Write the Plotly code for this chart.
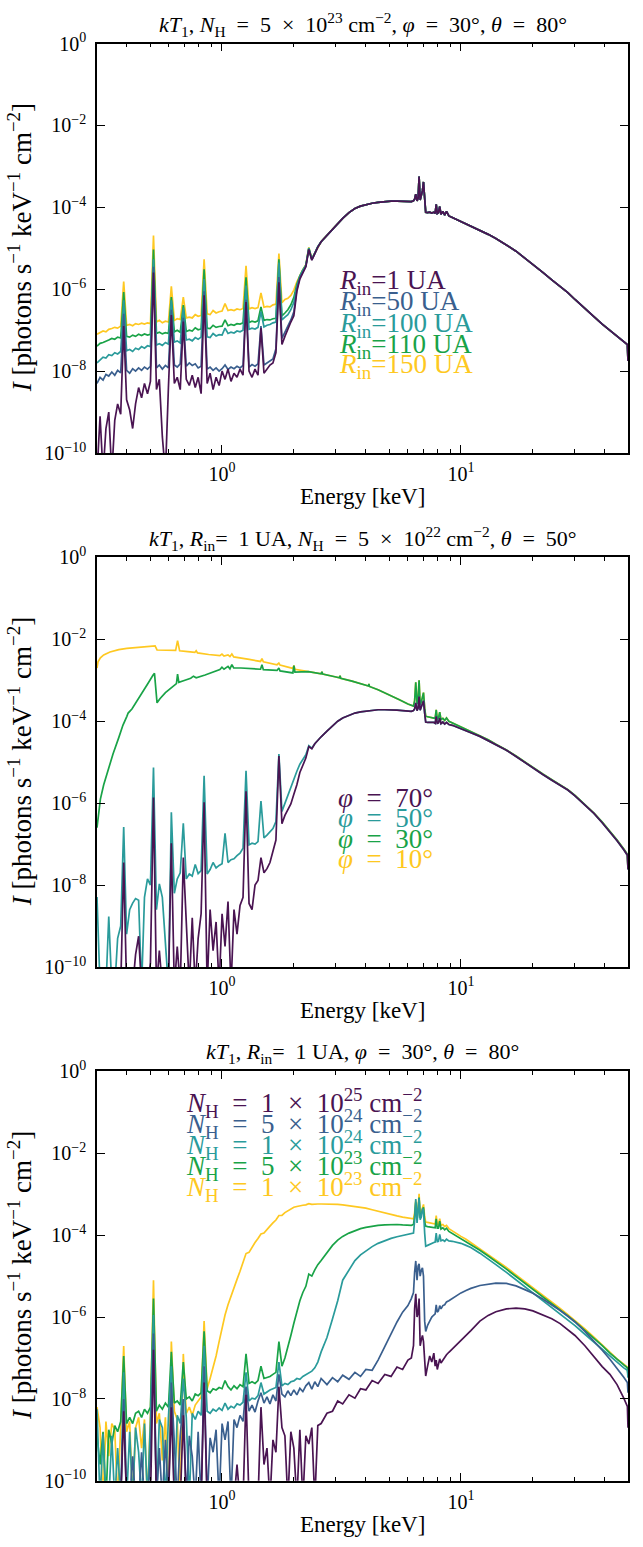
import numpy as np
import plotly.graph_objects as go

FONT = "Liberation Serif"
W, H = 643, 1547

# ---------------------------------------------------------------- energy grids (keV)
E_SOFT = [
    0.300, 0.309, 0.318, 0.327, 0.336, 0.346, 0.356, 0.366, 0.377, 0.388,
    0.399, 0.411, 0.423, 0.435, 0.448, 0.461, 0.474, 0.488, 0.502, 0.517,
    0.532, 0.547, 0.563, 0.580, 0.597, 0.614, 0.632, 0.650, 0.669, 0.689,
    0.709, 0.730, 0.751, 0.773, 0.795, 0.818, 0.842, 0.867, 0.892, 0.918,
    0.945, 0.973, 1.001, 1.030, 1.060, 1.091, 1.123, 1.156, 1.190, 1.225,
    1.261, 1.298, 1.336, 1.375, 1.415, 1.456, 1.499, 1.543, 1.588, 1.634,
    1.682, 1.731, 1.782, 1.834, 1.887, 1.942, 1.999, 2.058, 2.118, 2.180,
    2.244, 2.309, 2.377, 2.446, 2.518,
]
E_HARD = [
    2.60, 2.75, 2.90, 3.05, 3.20, 3.40, 3.60, 3.80, 4.00, 4.25,
    4.50, 4.80, 5.10, 5.40, 5.70, 6.00, 6.20, 6.33, 6.40, 6.47,
    6.55, 6.62, 6.68, 6.75, 6.83, 6.90, 6.97, 7.05, 7.12, 7.25,
    7.40, 7.55, 7.70, 7.80, 7.88, 7.96, 8.05, 8.15, 8.25, 8.40,
    8.55, 8.70, 8.90, 9.20, 9.60, 10.0, 10.5, 11.0, 12.0, 13.0,
    14.0, 15.5, 17.0, 18.5, 20.0, 22.0, 24.0, 26.0, 28.0, 30.0,
    33.0, 36.0, 39.0, 42.0, 45.0, 48.0, 49.7, 50.0,
]

# ---------------------------------------------------------------- panel 1: R_in series (log10 I)
P1_R150_SOFT = [
    -7.10, -7.05, -7.02, -7.04, -6.98, -6.96, -6.93, -6.95, -6.90, -5.81,
    -6.88, -6.86, -6.89, -6.84, -6.86, -6.83, -6.85, -6.82, -6.84, -4.69,
    -6.80, -6.76, -6.82, -6.78, -6.80, -5.93, -6.76, -6.72, -6.74, -6.19,
    -6.70, -6.68, -6.70, -6.62, -6.66, -6.64, -5.27, -6.60, -6.62, -6.52,
    -6.58, -6.55, -6.53, -6.35, -6.52, -6.50, -6.52, -6.48, -6.50, -6.47,
    -5.43, -6.48, -6.45, -6.47, -6.45, -6.09, -6.44, -6.42, -6.43, -6.38,
    -6.36, -5.13, -6.33, -6.25, -6.22, -6.15, -6.02, -5.82, -5.65, -5.52,
    -5.40, -4.98, -5.25, -5.12, -4.96,
]
P1_R110_SOFT = [
    -7.39, -7.32, -7.30, -7.26, -7.24, -7.20, -7.22, -7.17, -7.19, -6.07,
    -7.15, -7.17, -7.12, -7.15, -7.10, -7.13, -7.09, -7.12, -7.10, -5.03,
    -7.08, -7.05, -7.09, -7.06, -7.08, -6.19, -7.04, -7.00, -7.05, -6.39,
    -7.03, -7.00, -7.02, -6.94, -6.99, -6.97, -5.51, -6.95, -6.96, -6.88,
    -6.93, -6.91, -6.90, -6.75, -6.89, -6.86, -6.88, -6.84, -6.85, -6.82,
    -5.71, -6.81, -6.78, -6.80, -6.77, -6.43, -6.76, -6.74, -6.75, -6.72,
    -6.71, -5.27, -6.65, -6.58, -6.50, -6.38, -6.20, -5.88, -5.67, -5.53,
    -5.41, -4.99, -5.26, -5.12, -4.96,
]
P1_R100_SOFT = [
    -7.80, -7.72, -7.66, -7.68, -7.60, -7.62, -7.55, -7.58, -7.52, -6.27,
    -7.50, -7.47, -7.52, -7.44, -7.47, -7.40, -7.44, -7.38, -7.40, -5.27,
    -7.36, -7.33, -7.37, -7.30, -7.34, -6.27, -7.29, -7.26, -7.31, -6.45,
    -7.24, -7.22, -7.26, -7.18, -7.22, -7.17, -5.75, -7.16, -7.18, -7.08,
    -7.14, -7.11, -7.12, -6.95, -7.08, -7.05, -7.07, -7.02, -7.04, -7.00,
    -5.91, -6.98, -6.95, -6.97, -6.93, -6.55, -6.92, -6.88, -6.86, -6.82,
    -6.80, -5.35, -6.75, -6.68, -6.62, -6.50, -6.32, -5.93, -5.69, -5.54,
    -5.42, -5.00, -5.27, -5.12, -4.96,
]
P1_R50_SOFT = [
    -8.30, -8.15, -8.22, -8.08, -8.12, -8.02, -8.10, -7.98, -8.04, -6.60,
    -7.98, -8.05, -7.94, -8.00, -7.92, -7.98, -7.90, -7.95, -7.88, -5.45,
    -7.92, -7.85, -7.95, -7.86, -7.92, -6.50, -7.85, -7.90, -7.82, -6.70,
    -7.88, -7.80, -7.86, -7.82, -7.92, -7.88, -6.05, -7.95, -7.90, -7.98,
    -7.92, -8.00, -7.94, -7.85, -7.96, -7.90, -7.94, -7.88, -7.92, -7.86,
    -6.25, -7.90, -7.84, -7.88, -7.82, -6.90, -7.85, -7.80, -7.76, -7.70,
    -7.45, -5.70, -7.20, -7.05, -6.90, -6.75, -6.55, -6.00, -5.72, -5.56,
    -5.44, -5.02, -5.28, -5.13, -4.97,
]
P1_R1_SOFT = [
    -10.5, -9.10, -10.5, -9.40, -9.00, -10.5, -9.20, -8.80, -9.05, -6.90,
    -8.70, -8.95, -9.40, -8.80, -8.40, -8.65, -8.30, -8.55, -8.25, -5.59,
    -8.45, -8.20, -9.60, -10.5, -8.40, -6.63, -8.30, -8.15, -8.45, -6.79,
    -8.20, -8.35, -8.10, -8.40, -8.15, -8.55, -6.15, -8.30, -8.05, -8.45,
    -8.15, -8.35, -8.00, -8.20, -7.95, -8.25, -8.05, -8.15, -7.95, -8.10,
    -6.31, -8.00, -8.15, -7.95, -8.10, -6.95, -8.05, -7.95, -7.85, -7.80,
    -7.55, -5.83, -7.35, -7.15, -6.95, -6.80, -6.65, -6.05, -5.75, -5.58,
    -5.45, -5.03, -5.29, -5.13, -4.97,
]
# above ~2.6 keV the five R_in spectra coincide
P1_HARD = [
    -4.84, -4.68, -4.53, -4.40, -4.27, -4.13, -4.03, -3.97, -3.93, -3.90,
    -3.88, -3.86, -3.85, -3.85, -3.85, -3.86, -3.86, -3.84, -3.80, -3.68,
    -3.84, -3.78, -3.25, -3.82, -3.72, -3.60, -3.38, -3.85, -4.12, -4.13,
    -4.12, -4.14, -4.12, -4.15, -3.93, -4.15, -4.13, -3.98, -4.17, -4.10,
    -4.19, -4.10, -4.21, -4.25, -4.30, -4.34, -4.40, -4.45, -4.55, -4.66,
    -4.76, -4.92, -5.07, -5.24, -5.39, -5.59, -5.77, -5.93, -6.08, -6.25,
    -6.48, -6.67, -6.85, -7.01, -7.15, -7.28, -7.35, -7.75,
]

# ---------------------------------------------------------------- panel 2: phi series
P2_PHI10_SOFT_E = [
    0.300, 0.303, 0.310, 0.320, 0.340, 0.370, 0.400, 0.450, 0.500, 0.525,
    0.535, 0.580, 0.640, 0.652, 0.665, 0.720, 0.770, 0.780, 0.790, 0.880,
    0.980, 1.000, 1.020, 1.060, 1.080, 1.100, 1.120, 1.300, 1.450, 1.470,
    1.490, 1.700, 1.730, 1.750, 1.980, 2.000, 2.020,
]
P2_PHI10_SOFT = [
    -2.70, -2.55, -2.45, -2.38, -2.31, -2.25, -2.22, -2.19, -2.17, -2.16,
    -2.26, -2.26, -2.27, -2.03, -2.28, -2.30, -2.32, -2.28, -2.33, -2.37,
    -2.40, -2.36, -2.41, -2.38, -2.42, -2.36, -2.43, -2.49, -2.54, -2.47,
    -2.55, -2.62, -2.58, -2.63, -2.71, -2.64, -2.73,
]
P2_PHI30_SOFT_E = [
    0.300, 0.305, 0.310, 0.320, 0.335, 0.350, 0.370, 0.385, 0.400, 0.405,
    0.420, 0.440, 0.465, 0.490, 0.515, 0.522, 0.535, 0.550, 0.580, 0.620,
    0.645, 0.652, 0.660, 0.700, 0.740, 0.760, 0.780, 0.850, 0.920, 0.980,
    1.000, 1.020, 1.060, 1.080, 1.100, 1.120, 1.200, 1.300, 1.450, 1.470,
    1.490, 1.700, 1.730, 1.750, 1.980, 2.000, 2.020,
]
P2_PHI30_SOFT = [
    -6.60, -6.20, -5.90, -5.55, -5.15, -4.80, -4.40, -4.10, -3.88, -3.80,
    -3.70, -3.52, -3.30, -3.08, -2.87, -2.83, -3.55, -3.45, -3.30, -3.15,
    -3.08, -2.85, -3.05, -3.00, -2.95, -2.90, -2.94, -2.87, -2.80, -2.74,
    -2.68, -2.73, -2.66, -2.72, -2.62, -2.70, -2.70, -2.71, -2.73, -2.62,
    -2.74, -2.76, -2.70, -2.77, -2.82, -2.64, -2.80,
]
# phi = 10 and 30 deg share the hard band
P2_LOWPHI_HARD_E = [
    2.30, 2.60, 2.62, 2.64, 3.00, 3.10, 3.12, 3.14, 3.50, 4.00,
    4.10, 4.12, 4.14, 4.50, 5.00, 5.50, 6.00, 6.20, 6.33, 6.40,
    6.47, 6.55, 6.62, 6.68, 6.75, 6.83, 6.90, 6.97, 7.05, 7.12,
    7.25, 7.40, 7.55, 7.70, 7.80, 7.88, 7.96, 8.05, 8.15, 8.25,
    8.40, 8.55, 8.70, 8.90, 9.20, 9.60, 10.0, 10.5, 11.0, 12.0,
    13.0, 14.0, 15.5, 17.0, 18.5, 20.0, 22.0, 24.0, 26.0, 28.0,
    30.0, 33.0, 36.0, 39.0, 42.0, 45.0, 48.0, 49.7, 50.0,
]
P2_LOWPHI_HARD = [
    -2.79, -2.84, -2.79, -2.85, -2.92, -2.94, -2.89, -2.95, -3.02, -3.12,
    -3.14, -3.09, -3.15, -3.23, -3.35, -3.47, -3.58, -3.62, -3.63, -3.50,
    -3.05, -3.58, -3.45, -3.00, -3.60, -3.52, -3.35, -3.30, -3.68, -3.88,
    -3.89, -3.90, -3.91, -3.92, -3.93, -3.72, -3.94, -3.93, -3.78, -3.96,
    -3.93, -3.98, -3.92, -4.00, -4.04, -4.09, -4.14, -4.20, -4.25, -4.35,
    -4.45, -4.56, -4.70, -4.85, -5.00, -5.14, -5.29, -5.43, -5.55, -5.67,
    -5.81, -6.03, -6.24, -6.46, -6.68, -6.90, -7.12, -7.25, -7.60,
]
P2_PHI50_SOFT = [
    -8.29, -10.5, -10.5, -10.5, -8.77, -10.5, -10.5, -9.30, -9.00, -6.58,
    -9.20, -8.60, -8.44, -8.33, -8.37, -10.5, -8.30, -7.85, -8.00, -5.13,
    -8.60, -7.97, -8.30, -9.60, -10.5, -6.22, -8.20, -7.85, -7.70, -6.49,
    -7.85, -7.73, -7.78, -7.50, -7.72, -7.65, -5.33, -7.73, -7.62, -7.45,
    -7.58, -7.52, -7.48, -6.74, -7.45, -7.38, -7.36, -7.28, -7.22, -7.10,
    -5.21, -7.02, -6.98, -7.00, -6.94, -5.95, -6.85, -6.78, -6.70, -6.62,
    -6.45, -4.80, -6.20, -6.00, -5.80, -5.62, -5.42, -5.22, -5.05, -4.93,
    -4.82, -4.60, -4.66, -4.55, -4.46,
]
P2_PHI70_SOFT = [
    -10.5, -10.5, -10.5, -10.5, -10.5, -10.5, -10.5, -10.5, -10.5, -7.45,
    -10.5, -10.5, -10.5, -9.70, -9.25, -10.5, -10.5, -10.5, -9.90, -5.86,
    -10.5, -9.60, -10.5, -10.5, -10.5, -6.98, -10.5, -9.50, -10.5, -7.33,
    -9.00, -10.5, -8.80, -10.5, -9.30, -8.70, -5.98, -10.5, -8.60, -9.60,
    -8.90, -10.5, -8.70, -9.50, -8.40, -10.5, -8.60, -9.20, -8.50, -8.30,
    -5.71, -8.45, -8.60, -8.00, -7.89, -7.33, -7.70, -7.60, -7.45, -7.20,
    -6.90, -4.85, -6.50, -6.30, -6.15, -6.02, -5.78, -5.55, -5.25, -5.05,
    -4.90, -4.62, -4.67, -4.55, -4.46,
]
# phi = 50 and 70 deg share the hard band
P2_HIGHPHI_HARD = [
    -4.38, -4.24, -4.11, -4.00, -3.92, -3.85, -3.80, -3.77, -3.75, -3.73,
    -3.72, -3.72, -3.72, -3.73, -3.74, -3.75, -3.76, -3.74, -3.70, -3.55,
    -3.74, -3.68, -3.40, -3.73, -3.66, -3.58, -3.50, -3.80, -4.02, -4.03,
    -4.03, -4.04, -4.03, -4.05, -3.88, -4.05, -4.04, -3.92, -4.06, -4.02,
    -4.07, -4.03, -4.08, -4.10, -4.14, -4.18, -4.23, -4.28, -4.37, -4.47,
    -4.57, -4.71, -4.86, -5.01, -5.15, -5.30, -5.44, -5.56, -5.68, -5.82,
    -6.04, -6.25, -6.48, -6.70, -6.92, -7.14, -7.27, -7.62,
]

# ---------------------------------------------------------------- panel 3: N_H series
P3_NH1E23_SOFT = [
    -8.20, -8.70, -10.5, -8.55, -9.40, -8.60, -8.75, -10.5, -8.65, -6.71,
    -8.80, -8.55, -10.5, -8.70, -8.45, -9.20, -8.50, -10.5, -8.40, -5.10,
    -8.60, -8.35, -9.50, -8.45, -10.5, -6.60, -8.30, -8.50, -10.5, -6.90,
    -8.35, -8.20, -8.40, -8.15, -8.05, -7.95, -6.10, -7.75, -7.50, -7.25,
    -6.95, -6.60, -6.25, -5.95, -5.70, -5.48, -5.28, -5.08, -4.88, -4.66,
    -4.45, -4.42, -4.28, -4.18, -4.08, -3.97, -3.95, -3.85, -3.78, -3.70,
    -3.63, -3.52, -3.52, -3.45, -3.40, -3.36, -3.32, -3.30, -3.28, -3.27,
    -3.26, -3.23, -3.25, -3.24, -3.24,
]
P3_NH1E23_HARD = [
    -3.24, -3.24, -3.25, -3.25, -3.26, -3.28, -3.30, -3.32, -3.34, -3.38,
    -3.42, -3.46, -3.50, -3.53, -3.56, -3.58, -3.60, -3.60, -3.45, -3.15,
    -3.50, -3.35, -2.99, -3.48, -3.42, -3.30, -3.25, -3.55, -3.68, -3.69,
    -3.70, -3.71, -3.72, -3.73, -3.52, -3.74, -3.74, -3.60, -3.76, -3.74,
    -3.79, -3.76, -3.84, -3.90, -3.97, -4.03, -4.10, -4.18, -4.33, -4.47,
    -4.60, -4.79, -4.97, -5.13, -5.28, -5.46, -5.63, -5.79, -5.94, -6.08,
    -6.29, -6.49, -6.68, -6.86, -7.02, -7.15, -7.22, -7.40,
]
P3_NH5E23_SOFT = [
    -8.90, -9.60, -8.80, -10.5, -8.75, -9.10, -8.65, -8.80, -8.55, -6.95,
    -8.60, -8.45, -8.60, -8.35, -8.30, -8.45, -8.25, -8.35, -8.20, -5.55,
    -8.30, -8.15, -8.25, -8.10, -8.20, -6.85, -8.10, -8.05, -8.15, -7.10,
    -8.00, -7.95, -8.05, -7.88, -7.92, -7.85, -6.35, -7.80, -7.85, -7.75,
    -7.78, -7.72, -7.75, -7.55, -7.70, -7.78, -7.68, -7.75, -7.65, -7.70,
    -6.90, -7.62, -7.58, -7.62, -7.55, -7.20, -7.50, -7.48, -7.45, -7.40,
    -7.35, -6.60, -7.20, -7.00, -6.75, -6.45, -6.15, -5.85, -5.60, -5.40,
    -5.25, -4.95, -5.00, -4.85, -4.72,
]
P3_NH5E23_HARD = [
    -4.62, -4.42, -4.25, -4.12, -4.03, -3.95, -3.89, -3.84, -3.81, -3.78,
    -3.76, -3.75, -3.74, -3.74, -3.75, -3.76, -3.76, -3.74, -3.55, -3.20,
    -3.62, -3.40, -3.08, -3.58, -3.50, -3.38, -3.32, -3.68, -3.78, -3.79,
    -3.80, -3.80, -3.81, -3.82, -3.60, -3.83, -3.83, -3.66, -3.85, -3.82,
    -3.87, -3.83, -3.91, -3.96, -4.02, -4.08, -4.15, -4.22, -4.37, -4.51,
    -4.64, -4.83, -5.01, -5.17, -5.32, -5.50, -5.67, -5.83, -5.97, -6.11,
    -6.32, -6.52, -6.70, -6.88, -7.04, -7.17, -7.24, -7.42,
]
P3_NH1E24_SOFT = [
    -8.25, -10.5, -8.85, -10.5, -10.5, -8.90, -10.5, -9.20, -10.5, -7.35,
    -10.5, -8.80, -10.5, -8.70, -9.30, -10.5, -8.60, -10.5, -8.55, -5.95,
    -10.5, -8.50, -8.70, -10.5, -8.45, -7.20, -10.5, -8.40, -8.60, -7.50,
    -8.45, -10.5, -8.35, -8.50, -8.30, -8.40, -6.70, -8.30, -8.35, -8.25,
    -8.30, -8.22, -8.28, -8.10, -8.25, -8.18, -8.22, -8.12, -8.15, -8.08,
    -7.35, -8.05, -7.98, -8.00, -7.92, -7.60, -7.88, -7.82, -7.78, -7.75,
    -7.72, -7.10, -7.68, -7.62, -7.65, -7.58, -7.56, -7.50, -7.52, -7.45,
    -7.40, -7.36, -7.32, -7.24, -7.10,
]
P3_NH1E24_HARD = [
    -6.85, -6.50, -6.05, -5.60, -5.10, -4.85, -4.62, -4.48, -4.38, -4.28,
    -4.20, -4.13, -4.08, -4.04, -4.01, -3.99, -3.98, -3.95, -3.65, -3.12,
    -3.70, -3.40, -3.10, -3.62, -3.55, -3.35, -3.38, -3.95, -4.27, -4.25,
    -4.22, -4.20, -4.18, -4.17, -3.95, -4.16, -4.15, -3.98, -4.14, -4.12,
    -4.15, -4.10, -4.14, -4.15, -4.17, -4.20, -4.25, -4.30, -4.44, -4.58,
    -4.72, -4.91, -5.09, -5.26, -5.41, -5.60, -5.77, -5.93, -6.07, -6.21,
    -6.42, -6.61, -6.79, -6.96, -7.11, -7.24, -7.30, -7.48,
]
P3_NH5E24_SOFT = [
    -10.5, -10.5, -10.5, -10.5, -10.5, -10.5, -10.5, -10.5, -10.5, -8.00,
    -10.5, -10.5, -9.40, -10.5, -10.5, -9.30, -10.5, -10.5, -9.50, -6.40,
    -10.5, -9.20, -10.5, -9.00, -10.5, -7.60, -9.10, -10.5, -8.90, -8.00,
    -10.5, -8.90, -9.40, -10.5, -8.80, -10.5, -7.20, -10.5, -8.95, -9.30,
    -8.75, -10.5, -8.60, -9.00, -8.55, -10.5, -8.50, -8.70, -8.40, -8.55,
    -7.70, -8.30, -8.15, -8.32, -8.05, -7.85, -8.10, -7.95, -8.12, -7.90,
    -8.05, -7.40, -7.88, -7.95, -7.80, -7.92, -7.78, -7.90, -7.74, -7.82,
    -7.68, -7.60, -7.76, -7.58, -7.70,
]
P3_NH5E24_HARD = [
    -7.50, -7.65, -7.48, -7.58, -7.42, -7.52, -7.35, -7.45, -7.28, -7.30,
    -7.05, -6.72, -6.40, -6.12, -5.88, -5.72, -5.55, -5.40, -4.90, -4.63,
    -5.10, -4.75, -4.70, -5.00, -4.85, -4.80, -5.00, -6.10, -6.35, -6.20,
    -6.10, -6.00, -5.95, -5.92, -5.70, -5.88, -5.85, -5.72, -5.80, -5.72,
    -5.70, -5.63, -5.60, -5.54, -5.47, -5.41, -5.35, -5.30, -5.23, -5.19,
    -5.17, -5.18, -5.24, -5.33, -5.42, -5.56, -5.70, -5.84, -5.98, -6.12,
    -6.35, -6.58, -6.81, -7.03, -7.25, -7.47, -7.60, -7.85,
]
P3_NH1E25_SOFT = [
    -10.5, -10.5, -10.5, -10.5, -10.5, -10.5, -10.5, -10.5, -10.5, -8.30,
    -10.5, -10.5, -10.5, -10.5, -10.5, -10.5, -10.5, -10.5, -10.5, -6.80,
    -10.5, -10.5, -10.5, -10.5, -10.5, -8.20, -10.5, -10.5, -10.5, -8.40,
    -10.5, -10.5, -10.5, -10.5, -10.5, -10.5, -7.60, -10.5, -10.5, -10.5,
    -10.5, -10.5, -10.5, -10.5, -10.5, -10.5, -10.5, -9.60, -10.5, -10.5,
    -7.90, -10.5, -10.5, -10.5, -10.5, -8.20, -9.60, -9.20, -10.5, -9.00,
    -9.30, -7.70, -8.70, -8.90, -10.5, -8.80, -9.20, -10.5, -8.75, -10.5,
    -8.90, -9.10, -8.70, -10.5, -8.65,
]
P3_NH1E25_HARD = [
    -8.60, -8.35, -8.30, -8.05, -8.12, -7.90, -7.98, -7.75, -7.78, -7.55,
    -7.62, -7.40, -7.45, -7.22, -7.28, -7.05, -7.00, -6.70, -5.80, -5.43,
    -6.00, -5.90, -5.55, -6.70, -6.55, -6.45, -6.60, -7.25, -7.44, -7.20,
    -6.95, -7.10, -6.88, -7.20, -7.05, -7.28, -7.15, -7.02, -7.12, -7.05,
    -6.98, -6.92, -6.86, -6.78, -6.68, -6.58, -6.45, -6.33, -6.10, -5.96,
    -5.87, -5.80, -5.78, -5.80, -5.85, -5.94, -6.04, -6.16, -6.30, -6.45,
    -6.70, -6.96, -7.21, -7.40, -7.65, -7.98, -8.18, -8.70,
]

# ---------------------------------------------------------------- styling
PURPLE, BLUE, TEAL, GREEN, YELLOW = "#4a1452", "#3a5f8e", "#2a9b9b", "#19a347", "#fec821"

X_TICKS = [1, 10]
X_TICKTEXT = ["10<sup>0</sup>", "10<sup>1</sup>"]
X_MINOR = [0.3, 0.4, 0.5, 0.6, 0.7, 0.8, 0.9, 2, 3, 4, 5, 6, 7, 8, 9, 20, 30, 40, 50]
Y_TICKS = [1, 1e-2, 1e-4, 1e-6, 1e-8, 1e-10]
Y_TICKTEXT = ["10<sup>0</sup>", "10<sup>\u22122</sup>", "10<sup>\u22124</sup>",
              "10<sup>\u22126</sup>", "10<sup>\u22128</sup>", "10<sup>\u221210</sup>"]

for arr_e, arrs in [
    (E_SOFT, [P1_R150_SOFT, P1_R110_SOFT, P1_R100_SOFT, P1_R50_SOFT, P1_R1_SOFT,
              P2_PHI50_SOFT, P2_PHI70_SOFT, P3_NH1E23_SOFT, P3_NH5E23_SOFT,
              P3_NH1E24_SOFT, P3_NH5E24_SOFT, P3_NH1E25_SOFT]),
    (E_HARD, [P1_HARD, P2_HIGHPHI_HARD, P3_NH1E23_HARD, P3_NH5E23_HARD,
              P3_NH1E24_HARD, P3_NH5E24_HARD, P3_NH1E25_HARD]),
    (P2_PHI10_SOFT_E, [P2_PHI10_SOFT]),
    (P2_PHI30_SOFT_E, [P2_PHI30_SOFT]),
    (P2_LOWPHI_HARD_E, [P2_LOWPHI_HARD]),
]:
    for a in arrs:
        assert len(a) == len(arr_e), (len(a), len(arr_e))

# panel geometry in pixels (top, bottom) and shared x extent
PANELS = [(31, 447), (553, 969), (1075, 1491)]
X_LEFT, X_RIGHT = 97, 628


def px_y(p):
    return 1 - p / H


def px_x(p):
    return p / W


fig = go.Figure()


def add_spectrum(panel, e_parts, logi_parts, color):
    e = [v for part in e_parts for v in part]
    y = [10.0 ** v for part in logi_parts for v in part]
    sfx = "" if panel == 1 else str(panel)
    fig.add_trace(go.Scatter(
        x=e, y=y, mode="lines", xaxis="x" + sfx, yaxis="y" + sfx,
        line=dict(color=color, width=1.7), showlegend=False, hoverinfo="skip",
    ))


# panel 1 (purple drawn last so it sits on top)
add_spectrum(1, [E_SOFT, E_HARD], [P1_R150_SOFT, P1_HARD], YELLOW)
add_spectrum(1, [E_SOFT, E_HARD], [P1_R110_SOFT, P1_HARD], GREEN)
add_spectrum(1, [E_SOFT, E_HARD], [P1_R100_SOFT, P1_HARD], TEAL)
add_spectrum(1, [E_SOFT, E_HARD], [P1_R50_SOFT, P1_HARD], BLUE)
add_spectrum(1, [E_SOFT, E_HARD], [P1_R1_SOFT, P1_HARD], PURPLE)

# panel 2
add_spectrum(2, [P2_PHI10_SOFT_E, P2_LOWPHI_HARD_E], [P2_PHI10_SOFT, P2_LOWPHI_HARD], YELLOW)
add_spectrum(2, [P2_PHI30_SOFT_E, P2_LOWPHI_HARD_E], [P2_PHI30_SOFT, P2_LOWPHI_HARD], GREEN)
add_spectrum(2, [E_SOFT, E_HARD], [P2_PHI50_SOFT, P2_HIGHPHI_HARD], TEAL)
add_spectrum(2, [E_SOFT, E_HARD], [P2_PHI70_SOFT, P2_HIGHPHI_HARD], PURPLE)

# panel 3
add_spectrum(3, [E_SOFT, E_HARD], [P3_NH1E23_SOFT, P3_NH1E23_HARD], YELLOW)
add_spectrum(3, [E_SOFT, E_HARD], [P3_NH5E23_SOFT, P3_NH5E23_HARD], GREEN)
add_spectrum(3, [E_SOFT, E_HARD], [P3_NH1E24_SOFT, P3_NH1E24_HARD], TEAL)
add_spectrum(3, [E_SOFT, E_HARD], [P3_NH5E24_SOFT, P3_NH5E24_HARD], BLUE)
add_spectrum(3, [E_SOFT, E_HARD], [P3_NH1E25_SOFT, P3_NH1E25_HARD], PURPLE)

tick_font = dict(family=FONT, size=20, color="black")
common = dict(
    type="log", showline=True, linecolor="black", linewidth=1.5, mirror="allticks",
    ticks="inside", tickwidth=1.2, tickcolor="black", showgrid=False, zeroline=False,
    tickfont=tick_font,
)

layout = dict(
    width=W, height=H, margin=dict(l=0, r=0, t=0, b=0),
    paper_bgcolor="white", plot_bgcolor="white", showlegend=False,
)
for i, (top, bot) in enumerate(PANELS, start=1):
    sfx = "" if i == 1 else str(i)
    layout["xaxis" + sfx] = dict(
        common, domain=[px_x(X_LEFT), px_x(X_RIGHT)], anchor="y" + sfx,
        range=[np.log10(0.3), np.log10(50)], tickvals=X_TICKS, ticktext=X_TICKTEXT,
        ticklen=8, ticklabelstandoff=2,
        minor=dict(ticks="inside", ticklen=4, tickwidth=1, tickcolor="black",
                   tickvals=X_MINOR, showgrid=False),
    )
    layout["yaxis" + sfx] = dict(
        common, domain=[px_y(bot), px_y(top)], anchor="x" + sfx,
        range=[-10, 0], tickvals=Y_TICKS, ticktext=Y_TICKTEXT, ticklen=8,
        ticklabelstandoff=5,
    )
fig.update_layout(**layout)

SP = "\u2002"   # wider gap around relation signs, as in typeset math
TITLES = [
    f"<i>kT</i><sub>1</sub>, <i>N</i><sub>H</sub>{SP}={SP}5{SP}\u00d7{SP}10<sup>23</sup> cm<sup>\u22122</sup>, "
    f"<i>\u03c6</i>{SP}={SP}30\u00b0, <i>\u03b8</i>{SP}={SP}80\u00b0",
    f"<i>kT</i><sub>1</sub>, <i>R</i><sub>in</sub>={SP}1 UA, <i>N</i><sub>H</sub>{SP}={SP}5{SP}\u00d7{SP}10<sup>22</sup> "
    f"cm<sup>\u22122</sup>, <i>\u03b8</i>{SP}={SP}50\u00b0",
    f"<i>kT</i><sub>1</sub>, <i>R</i><sub>in</sub>={SP}1 UA, <i>\u03c6</i>{SP}={SP}30\u00b0, "
    f"<i>\u03b8</i>{SP}={SP}80\u00b0",
]
YLABEL = ("<i>I</i> [photons s<sup>\u22121</sup> keV<sup>\u22121</sup> "
          "cm<sup>\u22122</sup>]")

annotations = []
for (top, bot), title in zip(PANELS, TITLES):
    mid_x = px_x((X_LEFT + X_RIGHT) / 2)
    annotations.append(dict(text=title, x=mid_x, y=px_y(top - 19), xref="paper", yref="paper",
                            showarrow=False, xanchor="center", yanchor="middle",
                            font=dict(family=FONT, size=22, color="black")))
    annotations.append(dict(text="Energy [keV]", x=mid_x, y=px_y(bot + 44), xref="paper",
                            yref="paper", showarrow=False, xanchor="center", yanchor="middle",
                            font=dict(family=FONT, size=23, color="black")))
    annotations.append(dict(text=YLABEL, x=px_x(20), y=px_y((top + bot) / 2), xref="paper",
                            yref="paper", showarrow=False, textangle=-90, xanchor="center",
                            yanchor="middle", font=dict(family=FONT, size=27, color="black")))

LEGENDS = [
    (337, [273, 295, 317, 338, 359],
     ["<i>R</i><sub>in</sub>=1 UA", "<i>R</i><sub>in</sub>=50 UA", "<i>R</i><sub>in</sub>=100 UA",
      "<i>R</i><sub>in</sub>=110 UA", "<i>R</i><sub>in</sub>=150 UA"],
     [PURPLE, BLUE, TEAL, GREEN, YELLOW]),
    (336, [797, 818, 839, 859],
     [f"<i>\u03c6</i>{SP}={SP}70\u00b0", f"<i>\u03c6</i>{SP}={SP}50\u00b0",
      f"<i>\u03c6</i>{SP}={SP}30\u00b0", f"<i>\u03c6</i>{SP}={SP}10\u00b0"],
     [PURPLE, TEAL, GREEN, YELLOW]),
    (184, [1107, 1128, 1150, 1171, 1192],
     [f"<i>N</i><sub>H</sub>{SP}={SP}1{SP}\u00d7{SP}10<sup>25</sup> cm<sup>\u22122</sup>",
      f"<i>N</i><sub>H</sub>{SP}={SP}5{SP}\u00d7{SP}10<sup>24</sup> cm<sup>\u22122</sup>",
      f"<i>N</i><sub>H</sub>{SP}={SP}1{SP}\u00d7{SP}10<sup>24</sup> cm<sup>\u22122</sup>",
      f"<i>N</i><sub>H</sub>{SP}={SP}5{SP}\u00d7{SP}10<sup>23</sup> cm<sup>\u22122</sup>",
      f"<i>N</i><sub>H</sub>{SP}={SP}1{SP}\u00d7{SP}10<sup>23</sup> cm<sup>\u22122</sup>"],
     [PURPLE, BLUE, TEAL, GREEN, YELLOW]),
]
for left, ys, texts, colors in LEGENDS:
    for yy, txt, col in zip(ys, texts, colors):
        annotations.append(dict(text=txt, x=px_x(left), y=px_y(yy), xref="paper", yref="paper",
                                showarrow=False, xanchor="left", yanchor="middle",
                                font=dict(family=FONT, size=27, color=col)))

fig.update_layout(annotations=annotations)
fig.write_html("out.html")
